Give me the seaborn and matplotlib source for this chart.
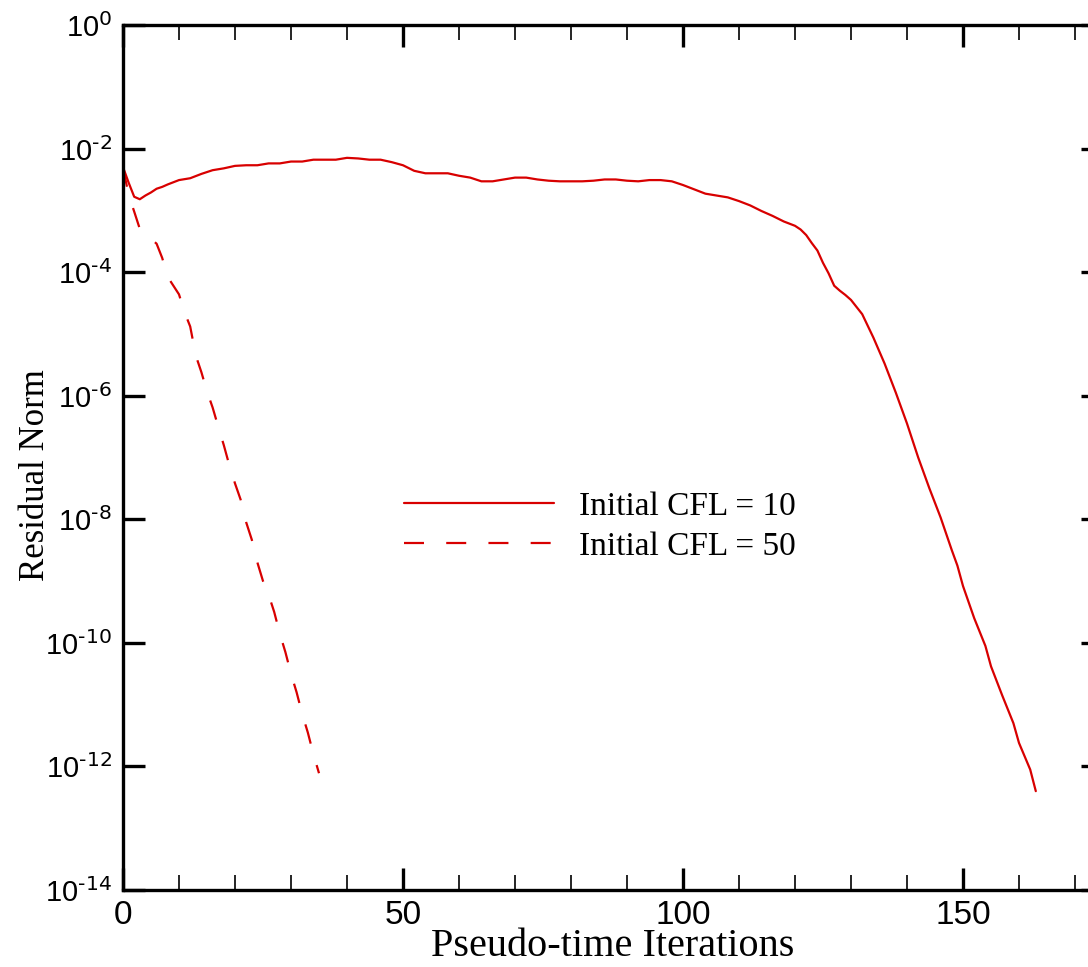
import matplotlib
matplotlib.use('Agg')
import matplotlib.pyplot as plt
import matplotlib.ticker as mticker
import numpy as np
import pandas as pd
import seaborn as sns

##### data (log10 of residual norm) #####
iter_cfl10 = [0, 1, 2, 3, 4, 5, 6, 7, 8, 10, 12, 14, 16, 18, 20, 22, 24, 26, 28, 30,
              32, 34, 36, 38, 40, 42, 44, 46, 48, 50, 52, 54, 56, 58, 60, 62, 64, 66, 68, 70,
              72, 74, 76, 78, 80, 82, 84, 86, 88, 90, 92, 94, 96, 98, 100, 102, 104, 106, 108, 110,
              112, 114, 116, 118, 120, 121, 122, 123, 124, 125, 126, 127, 128, 129, 130, 132, 134, 136, 138, 139,
              140, 142, 144, 146, 148, 149, 150, 152, 154, 155, 157, 159, 160, 162, 163]
logres_cfl10 = [-2.30, -2.55, -2.78, -2.82, -2.76, -2.71, -2.65, -2.62, -2.58, -2.51,
                -2.48, -2.41, -2.35, -2.32, -2.28, -2.27, -2.27, -2.24, -2.24, -2.21,
                -2.21, -2.18, -2.18, -2.18, -2.15, -2.16, -2.18, -2.18, -2.22, -2.27,
                -2.36, -2.40, -2.40, -2.40, -2.44, -2.47, -2.53, -2.53, -2.50, -2.47,
                -2.47, -2.50, -2.52, -2.53, -2.53, -2.53, -2.52, -2.50, -2.50, -2.52,
                -2.53, -2.51, -2.51, -2.53, -2.59, -2.66, -2.73, -2.76, -2.79, -2.85,
                -2.92, -3.01, -3.09, -3.18, -3.25, -3.31, -3.40, -3.53, -3.65, -3.85,
                -4.02, -4.22, -4.30, -4.37, -4.45, -4.68, -5.06, -5.48, -5.95, -6.20,
                -6.45, -7.00, -7.50, -7.97, -8.50, -8.75, -9.08, -9.60, -10.05, -10.38,
                -10.85, -11.30, -11.62, -12.05, -12.40]

iter_cfl50 = [0, 1, 2, 3, 4, 5, 6, 7, 8, 9, 10, 11, 12, 13, 14, 15, 16, 17,
              18, 19, 20, 21, 22, 23, 24, 25, 26, 27, 28, 29, 30, 31, 32, 33, 34, 35]
logres_cfl50 = [-2.30, -2.75, -3.02, -3.30, -3.40, -3.46, -3.54, -3.77, -4.08, -4.22,
                -4.36, -4.65, -4.88, -5.35, -5.62, -5.93, -6.19, -6.50, -6.80, -7.13,
                -7.42, -7.68, -8.05, -8.33, -8.70, -9.00, -9.22, -9.50, -9.85, -10.15,
                -10.50, -10.80, -11.15, -11.45, -11.80, -12.11]

case_labels = ['Initial CFL = 10', 'Initial CFL = 50']
y_exponents = [0, -2, -4, -6, -8, -10, -12, -14]

red = '#d80000'

df10 = pd.DataFrame({'iteration': iter_cfl10, 'residual': np.power(10.0, logres_cfl10)})
df50 = pd.DataFrame({'iteration': iter_cfl50, 'residual': np.power(10.0, logres_cfl50)})

##### plot #####
sns.set_theme(style='ticks')
plt.rcParams['font.family'] = ['Liberation Serif', 'DejaVu Serif']
plt.rcParams['axes.unicode_minus'] = False
for key in ['text.color', 'axes.labelcolor', 'xtick.color', 'ytick.color', 'axes.edgecolor']:
    plt.rcParams[key] = 'black'

fig = plt.figure(figsize=(10.88, 9.67), dpi=100)
ax = fig.add_axes([123 / 1088, 1 - 890 / 967, 980 / 1088, 865 / 967])

sns.lineplot(data=df10, x='iteration', y='residual', color=red, lw=1.6,
             label=case_labels[0], estimator=None, sort=False, ax=ax)
sns.lineplot(data=df50, x='iteration', y='residual', color=red, lw=1.6,
             linestyle=(0, (9, 10)), label=case_labels[1], estimator=None, sort=False, ax=ax)

ax.set_yscale('log')
ax.set_xlim(0, 175)
ax.set_ylim(1e-14, 1e0)

ax.xaxis.set_major_locator(mticker.MultipleLocator(50))
ax.xaxis.set_minor_locator(mticker.MultipleLocator(10))
ax.yaxis.set_major_locator(mticker.FixedLocator([10.0 ** e for e in y_exponents]))
ax.yaxis.set_minor_locator(mticker.NullLocator())
# hyphen-style exponent like the original
ax.yaxis.set_major_formatter(mticker.FuncFormatter(
    lambda v, pos: r'$\mathdefault{10^{\text{%d}}}$' % int(round(np.log10(v)))))

for s in ax.spines.values():
    s.set_linewidth(2.4)
    s.set_color('black')

ax.tick_params(which='both', direction='in', top=True, right=True, colors='black')
ax.tick_params(which='major', length=16, width=2.4)
ax.tick_params(which='minor', length=10.5, width=1.2)
ax.tick_params(axis='x', which='major', labelsize=24, pad=7, labelfontfamily='Liberation Sans')
ax.tick_params(axis='y', which='major', labelsize=21, pad=8, labelfontfamily='Liberation Sans')

ax.set_xlabel('Pseudo-time Iterations', fontsize=29, labelpad=-2, color='black')
ax.set_ylabel('Residual Norm', fontsize=25, color='black')
ax.yaxis.set_label_coords(-0.072, 0.48)

leg = ax.legend(loc='center left', bbox_to_anchor=(0.287, 0.42), frameon=False,
                fontsize=24, handlelength=4.5, handletextpad=0.75, labelspacing=0.28,
                borderpad=0, borderaxespad=0, labelcolor='black')

fig.savefig('out.png', dpi=100)
